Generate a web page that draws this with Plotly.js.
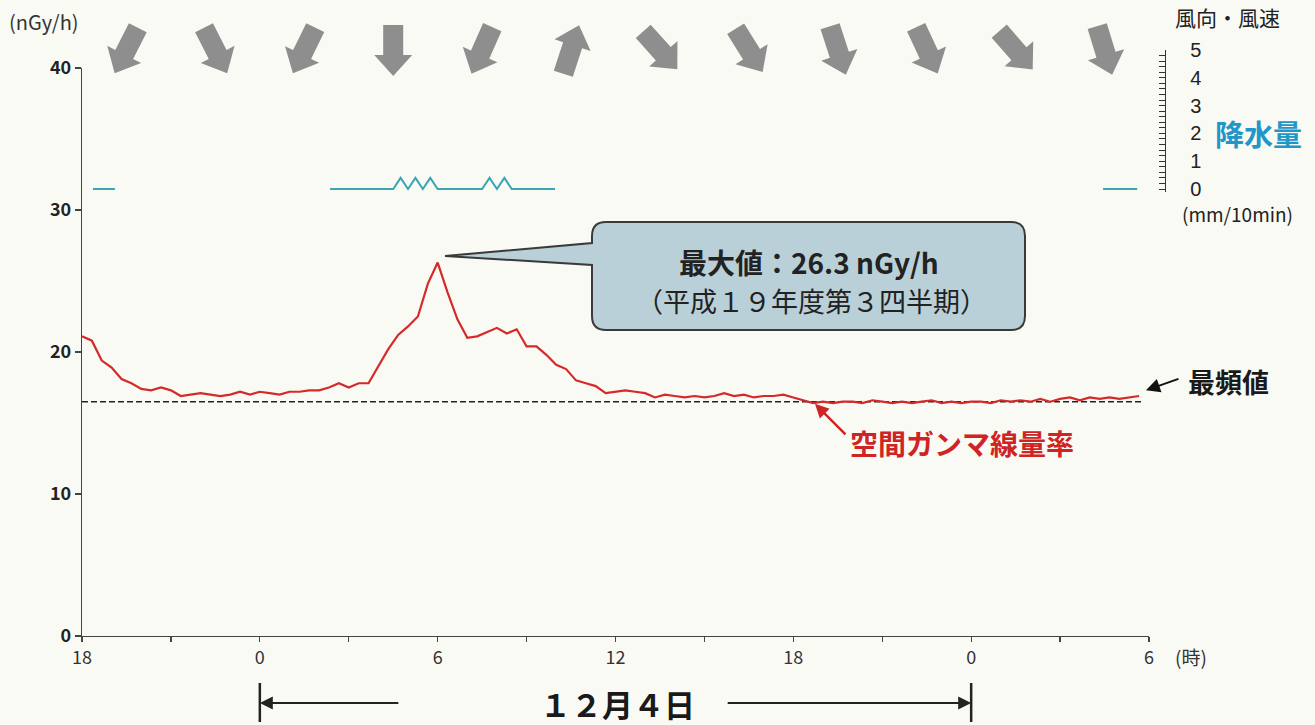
<!DOCTYPE html>
<html><head><meta charset="utf-8">
<script src="https://cdn.plot.ly/plotly-3.0.1.min.js"></script>
<style>html,body{margin:0;padding:0;background:#fafaf5;}</style>
</head><body><div id="chart" style="width:1315px;height:725px;"></div>
<script>
// ---- data ----
const xTickVals = [0, 3, 6, 9, 12, 15, 18, 21, 24, 27, 30, 33, 36];
const xTickText = ['18', '', '0', '', '6', '', '12', '', '18', '', '0', '', '6'];
const yTickVals = [0, 10, 20, 30, 40];
const precipTickVals = [0, 1, 2, 3, 4, 5];

// air gamma dose rate (nGy/h), every 20 minutes from 18:00 on Dec 3
const gammaRate = [
  21.1, 20.8, 19.4, 18.9, 18.1, 17.8, 17.4, 17.3, 17.5, 17.3,
  16.9, 17.0, 17.1, 17.0, 16.9, 17.0, 17.2, 17.0, 17.2, 17.1,
  17.0, 17.2, 17.2, 17.3, 17.3, 17.5, 17.8, 17.5, 17.8, 17.8,
  19.0, 20.2, 21.2, 21.8, 22.5, 24.8, 26.3, 24.2, 22.3, 21.0,
  21.1, 21.4, 21.7, 21.3, 21.6, 20.4, 20.4, 19.8, 19.1, 18.8,
  18.0, 17.8, 17.6, 17.1, 17.2, 17.3, 17.2, 17.1, 16.8, 17.0,
  16.9, 16.8, 16.9, 16.8, 16.9, 17.1, 16.9, 17.0, 16.8, 16.9,
  16.9, 17.0, 16.8, 16.6, 16.4, 16.5, 16.4, 16.5, 16.5, 16.4,
  16.6, 16.5, 16.4, 16.5, 16.4, 16.5, 16.6, 16.4, 16.5, 16.4,
  16.5, 16.5, 16.4, 16.6, 16.5, 16.6, 16.5, 16.7, 16.5, 16.7,
  16.8, 16.6, 16.8, 16.7, 16.8, 16.7, 16.8, 16.9
];
const stepHours = 1 / 3;
const gammaHours = gammaRate.map((v, i) => i * stepHours);
const modeValue = 16.5;
const peakText = '最大値：26.3 nGy/h';
const peakPeriod = '（平成１９年度第３四半期）';

// precipitation (mm/10min), gaps = no record
const precipHours = [0.37, 1.11, 1.2, 8.37, 10.5, 10.75, 11.0, 11.25, 11.5, 11.75, 12.0, 13.5, 13.75, 14.0, 14.25, 14.5, 15.96, 16.1, 34.45, 35.6];
const precipMm    = [0, 0, null, 0, 0, 0.4, 0, 0.4, 0, 0.4, 0, 0, 0.4, 0, 0.4, 0, 0, null, 0, 0];

// wind: direction the wind blows FROM (degrees), one per 3 hours
const windHours = [1.5, 4.5, 7.5, 10.5, 13.5, 16.5, 19.5, 22.5, 25.5, 28.5, 31.5, 34.5];
const windFromDeg = [27, 333, 26, 0, 24, 198, 318, 328, 342, 335, 319, 343];

// ---- layout helpers (pixel -> paper) ----
const L = 82, T = 40, W = 1083, H = 596;
const px = x => (x - L) / W;
const py = y => (T + H - y) / H;

const FONT = 'Noto Sans CJK JP, Noto Sans, sans-serif';

const traces = [
  {
    x: gammaHours, y: gammaRate, type: 'scatter', mode: 'lines',
    line: {color: '#d42a2a', width: 2.2}, xaxis: 'x', yaxis: 'y', hoverinfo: 'skip'
  },
  {
    x: precipHours, y: precipMm, type: 'scatter', mode: 'lines',
    line: {color: '#3aa6b4', width: 2}, xaxis: 'x', yaxis: 'y2', connectgaps: false, hoverinfo: 'skip'
  }
];

const r = 14;
const bx0 = 592, bx1 = 1025, by0 = 222, by1 = 330;
const calloutPath =
  `M${px(bx0 + r)},${py(by0)} L${px(bx1 - r)},${py(by0)} Q${px(bx1)},${py(by0)} ${px(bx1)},${py(by0 + r)} ` +
  `L${px(bx1)},${py(by1 - r)} Q${px(bx1)},${py(by1)} ${px(bx1 - r)},${py(by1)} ` +
  `L${px(bx0 + r)},${py(by1)} Q${px(bx0)},${py(by1)} ${px(bx0)},${py(by1 - r)} ` +
  `L${px(bx0)},${py(265)} L${px(445)},${py(256)} L${px(bx0)},${py(243)} ` +
  `L${px(bx0)},${py(by0 + r)} Q${px(bx0)},${py(by0)} ${px(bx0 + r)},${py(by0)} Z`;

const shapes = [
  {type: 'line', xref: 'x', yref: 'y', x0: 0, x1: gammaHours[gammaHours.length - 1] + 0.15,
   y0: modeValue, y1: modeValue, line: {color: '#222', width: 1.6, dash: '6px,3px'}, layer: 'below'},
  {type: 'path', xref: 'paper', yref: 'paper', path: calloutPath,
   fillcolor: '#b9d0d8', line: {color: '#3a3a3a', width: 2}},
  {type: 'line', xref: 'x', yref: 'paper', x0: 6, x1: 6, y0: py(722), y1: py(683), line: {color: '#222', width: 2.5}},
  {type: 'line', xref: 'x', yref: 'paper', x0: 30, x1: 30, y0: py(722), y1: py(683), line: {color: '#222', width: 2.5}}
];

// wind arrows: block-arrow template (pixels, y up, pointing up), rotated by bearing
const arrowTemplate = [[-10, -25], [10, -25], [10, 5], [19, 5], [0, 26], [-19, 5], [-10, 5]];
windHours.forEach((h, i) => {
  const b = (windFromDeg[i] + 180) * Math.PI / 180;
  const c = Math.cos(b), s = Math.sin(b);
  const pts = arrowTemplate.map(([x, y]) => [x * c + y * s, -x * s + y * c]);
  const path = 'M' + pts.map(p => p[0].toFixed(2) + ',' + p[1].toFixed(2)).join(' L') + ' Z';
  shapes.push({
    type: 'path', xref: 'x', xsizemode: 'pixel', xanchor: h,
    yref: 'paper', ysizemode: 'pixel', yanchor: py(50),
    path, fillcolor: '#8e8e8e', line: {width: 0}
  });
});

const annotations = [];
const txt = (text, x, y, size, color, extra) => annotations.push(Object.assign({
  text, xref: 'paper', yref: 'paper', x: px(x), y: py(y), xanchor: 'center', yanchor: 'middle',
  showarrow: false, font: {family: FONT, size, color}
}, extra || {}));

txt('(nGy/h)', 44, 22, 20, '#333');
txt('(時)', 1191, 656, 19, '#333');
txt('<b>最頻値</b>', 1228, 381, 27, '#1a1a1a');
txt('<b>空間ガンマ線量率</b>', 962, 443, 28, '#d02424');
txt('<b>' + peakText + '</b>', 809, 262, 28, '#222');
txt(peakPeriod, 811, 300, 27, '#222');
txt('<b>１２月４日</b>', 617, 703, 31, '#1a1a1a');
txt('風向・風速', 1227, 17, 21, '#222');
txt('<b>降水量</b>', 1258, 133, 29, '#2196c8');
txt('(mm/10min)', 1237, 213, 19, '#222');

// pointer arrows
annotations.push({xref: 'x', yref: 'y', x: (1146 - 82) / 29.64, y: 17.3, text: '', showarrow: true,
  arrowhead: 2, arrowsize: 1.4, arrowwidth: 2, arrowcolor: '#111', ax: 34, ay: -12, standoff: 0});
annotations.push({xref: 'x', yref: 'y', x: (815 - 82) / 29.64, y: 16.35, text: '', showarrow: true,
  arrowhead: 2, arrowsize: 1.1, arrowwidth: 2.5, arrowcolor: '#d02424', ax: 32, ay: 32, standoff: 0});
// date span arrows
annotations.push({xref: 'x', yref: 'paper', x: 6, y: py(703), text: '', showarrow: true,
  arrowhead: 2, arrowsize: 1.3, arrowwidth: 2, arrowcolor: '#222', ax: 140, ay: 0, standoff: 0});
annotations.push({xref: 'x', yref: 'paper', x: 30, y: py(703), text: '', showarrow: true,
  arrowhead: 2, arrowsize: 1.3, arrowwidth: 2, arrowcolor: '#222', ax: -245, ay: 0, standoff: 0});

const layout = {
  width: 1315, height: 725,
  margin: {l: L, r: 1315 - L - W, t: T, b: 725 - T - H, pad: 0},
  paper_bgcolor: '#fafaf5', plot_bgcolor: 'rgba(0,0,0,0)',
  showlegend: false,
  font: {family: FONT, color: '#222'},
  xaxis: {
    domain: [0, 1067 / W], range: [0, 36], tickmode: 'array', tickvals: xTickVals, ticktext: xTickText,
    ticks: 'outside', ticklen: 5, tickwidth: 1.2, tickcolor: '#444',
    showline: true, linecolor: '#444', linewidth: 1.2, showgrid: false, zeroline: false,
    tickfont: {family: FONT, size: 18, color: '#333'}, fixedrange: true
  },
  yaxis: {
    domain: [0, 568 / H], range: [0, 40], tickmode: 'array', tickvals: yTickVals,
    ticks: 'outside', ticklen: 6, tickwidth: 1.2, tickcolor: '#444',
    showline: true, linecolor: '#444', linewidth: 1.2, showgrid: false, zeroline: false,
    tickfont: {family: FONT, size: 18, color: '#222', weight: 'bold'}, fixedrange: true
  },
  yaxis2: {
    domain: [py(191.8), py(50)], range: [-0.1, 5], anchor: 'free', position: 1, side: 'right',
    tickmode: 'array', tickvals: precipTickVals,
    showline: true, linecolor: '#333', linewidth: 1.2, ticks: 'inside', ticklen: 6, tickcolor: '#333',
    minor: {dtick: 0.2, tick0: 0, ticks: 'inside', ticklen: 6, tickcolor: '#333'},
    ticklabelstandoff: 20, showgrid: false, zeroline: false,
    tickfont: {family: 'Liberation Sans, Arial, sans-serif', size: 20, color: '#222'}, fixedrange: true
  },
  shapes, annotations
};

Plotly.newPlot('chart', traces, layout, {staticPlot: true, displayModeBar: false});
</script>
</body></html>
